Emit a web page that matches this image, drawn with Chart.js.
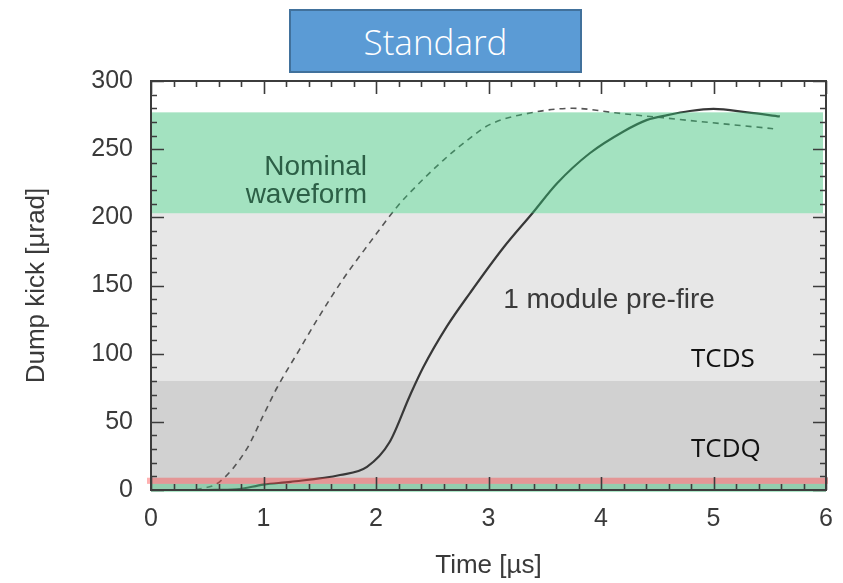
<!DOCTYPE html>
<html>
<head>
<meta charset="utf-8">
<script src="https://cdn.jsdelivr.net/npm/chart.js@4.4.1/dist/chart.umd.min.js"></script>
<style>
  html, body { margin: 0; padding: 0; background: #fff; }
  #wrap { position: relative; width: 843px; height: 583px; overflow: hidden; }
  #chart { position: absolute; left: 0; top: 0; }
  #title-box {
    position: absolute; left: 289px; top: 9px; width: 293px; height: 64px;
    background: #5b9bd5; border: 2px solid #41719c;
    color: #fff; font-family: "Open Sans", sans-serif; font-weight: 300; font-size: 35px;
    display: flex; align-items: center; justify-content: center; box-sizing: border-box;
  }
</style>
</head>
<body>
<div id="wrap">
  <canvas id="chart" width="843" height="583"></canvas>
  <div id="title-box">Standard</div>
</div>
<script>
// kick waveform with one module pre-firing (solid) and nominal waveform (dashed)
const solidTime = [0.5, 0.76, 1.0, 1.24, 1.68, 1.92, 2.12, 2.3, 2.42, 2.63, 2.84, 3.13, 3.39, 3.61, 3.9, 4.2, 4.41, 4.59, 4.79, 5.0, 5.3, 5.59];
const solidKick = [0, 0.5, 4, 6, 11, 17, 35, 69, 90, 120, 145, 177.5, 203, 225, 247, 263, 271.5, 275, 278, 279.5, 277, 274];
const dashedTime = [0.3, 0.45, 0.61, 0.85, 1.0, 1.12, 1.32, 1.47, 1.71, 1.95, 2.19, 2.3, 2.6, 2.85, 3.01, 3.4, 3.75, 4.14, 4.55, 5.53];
const dashedKick = [0, 1, 6, 30, 55, 75, 103, 124, 155, 182, 208, 218, 242, 259, 268, 277, 280, 276.5, 273, 265];

// protection bands [µrad]
const bandNames = ["Nominal waveform", "TCDS", "TCDQ"];
const bandLow = [203, 80, 0];
const bandHigh = [277, 203, 80];
const greenStrip = [-1.5, 4.5];
const redStrip = [4.5, 9];

const xTitle = "Time [µs]";
const yTitle = "Dump kick [µrad]";
const preFireLabel = "1 module pre-fire";

const toPoints = (xs, ys) => xs.map((x, i) => ({ x, y: ys[i] }));

const bandsPlugin = {
  id: "bands",
  beforeDatasetsDraw(chart) {
    const { ctx, chartArea: a, scales: { y } } = chart;
    ctx.save();
    ctx.fillStyle = "#e7e7e7";
    ctx.fillRect(a.left, y.getPixelForValue(bandHigh[1]), a.right - a.left, y.getPixelForValue(bandLow[1]) - y.getPixelForValue(bandHigh[1]));
    ctx.fillStyle = "#d1d1d1";
    ctx.fillRect(a.left, y.getPixelForValue(bandHigh[2]), a.right - a.left, y.getPixelForValue(bandLow[2]) - y.getPixelForValue(bandHigh[2]));
    ctx.restore();
  },
  afterDatasetsDraw(chart) {
    const { ctx, chartArea: a, scales: { x, y } } = chart;
    ctx.save();
    // nominal band overlay
    ctx.fillStyle = "rgba(50, 190, 115, 0.45)";
    const gTop = y.getPixelForValue(bandHigh[0]);
    ctx.fillRect(a.left, gTop, a.right - 3 - a.left, y.getPixelForValue(bandLow[0]) - gTop);
    // thin strips at the bottom
    ctx.fillStyle = "rgba(70, 200, 130, 0.45)";
    ctx.fillRect(a.left, y.getPixelForValue(greenStrip[1]), a.right - a.left, y.getPixelForValue(greenStrip[0]) - y.getPixelForValue(greenStrip[1]));
    ctx.fillStyle = "rgba(255, 70, 70, 0.42)";
    ctx.fillRect(a.left - 4, y.getPixelForValue(redStrip[1]), a.right - a.left + 6, y.getPixelForValue(redStrip[0]) - y.getPixelForValue(redStrip[1]));

    // annotations
    ctx.textBaseline = "alphabetic";
    ctx.fillStyle = "#2c5f46";
    ctx.font = "28px 'Liberation Sans', Arial, sans-serif";
    ctx.textAlign = "right";
    const words = bandNames[0].split(" ");
    ctx.fillText(words[0], x.getPixelForValue(1.92), 175);
    ctx.fillText(words[1], x.getPixelForValue(1.92), 203);
    ctx.fillStyle = "#3a3a3a";
    ctx.textAlign = "left";
    ctx.fillText(preFireLabel, x.getPixelForValue(3.13), 308);
    ctx.fillStyle = "#111";
    ctx.font = "26px 'Open Sans', sans-serif";
    ctx.fillText(bandNames[1], x.getPixelForValue(4.8), 367);
    ctx.fillText(bandNames[2], x.getPixelForValue(4.8), 457);
    ctx.restore();
  },
  afterDraw(chart) {
    const { ctx, chartArea: a, scales: { x, y } } = chart;
    ctx.save();
    ctx.strokeStyle = "#3c3c3c";
    ctx.lineWidth = 2;
    ctx.strokeRect(a.left, a.top, a.right - a.left, a.bottom - a.top);
    ctx.lineWidth = 1.6;
    ctx.beginPath();
    for (let v = 0; v <= 300; v += 10) {
      const py = Math.round(y.getPixelForValue(v)) + 0.5;
      const len = v % 50 === 0 ? 13 : 6;
      ctx.moveTo(a.left, py); ctx.lineTo(a.left + len, py);
      ctx.moveTo(a.right, py); ctx.lineTo(a.right - len, py);
    }
    for (let i = 0; i <= 30; i++) {
      const px = Math.round(x.getPixelForValue(i * 0.2)) + 0.5;
      const len = i % 5 === 0 ? 13 : 6;
      ctx.moveTo(px, a.bottom); ctx.lineTo(px, a.bottom - len);
      ctx.moveTo(px, a.top); ctx.lineTo(px, a.top + len);
    }
    ctx.stroke();
    ctx.restore();
  }
};

const tickFont = { family: "'Liberation Sans', Arial, sans-serif", size: 25 };
const titleFont = { family: "'Liberation Sans', Arial, sans-serif", size: 26 };

new Chart(document.querySelector("#chart"), {
  type: "line",
  data: {
    datasets: [
      {
        label: "1 module pre-fire",
        data: toPoints(solidTime, solidKick),
        borderColor: "#383838",
        borderWidth: 2.2,
        pointRadius: 0,
        cubicInterpolationMode: "monotone",
      },
      {
        label: "Nominal",
        data: toPoints(dashedTime, dashedKick),
        borderColor: "#555",
        borderWidth: 1.6,
        borderDash: [6, 5],
        pointRadius: 0,
        cubicInterpolationMode: "monotone",
      },
    ],
  },
  options: {
    responsive: false,
    animation: false,
    devicePixelRatio: 1,
    layout: { padding: { top: 81, right: 17, left: 0, bottom: 0 } },
    plugins: { legend: { display: false }, tooltip: { enabled: false } },
    scales: {
      x: {
        type: "linear",
        min: 0,
        max: 6,
        grid: { display: false, drawTicks: false },
        border: { display: false },
        ticks: { stepSize: 1, font: tickFont, color: "#3a3a3a", padding: 14, maxRotation: 0 },
        title: { display: true, text: xTitle, font: titleFont, color: "#3a3a3a", padding: { top: 0, bottom: 2 } },
        afterFit: (scale) => {
          scale.height = 93;
          scale.paddingLeft = 0;
          scale.paddingRight = 0;
        },
      },
      y: {
        min: 0,
        max: 300,
        grid: { display: false, drawTicks: false },
        border: { display: false },
        ticks: { stepSize: 50, font: tickFont, color: "#3a3a3a", padding: 18 },
        title: { display: true, text: yTitle, font: titleFont, color: "#3a3a3a", padding: { top: 21, bottom: 0 } },
        afterFit: (scale) => {
          scale.width = 151;
          scale.paddingTop = 0;
          scale.paddingBottom = 0;
        },
      },
    },
  },
  plugins: [bandsPlugin],
});
</script>
</body>
</html>
